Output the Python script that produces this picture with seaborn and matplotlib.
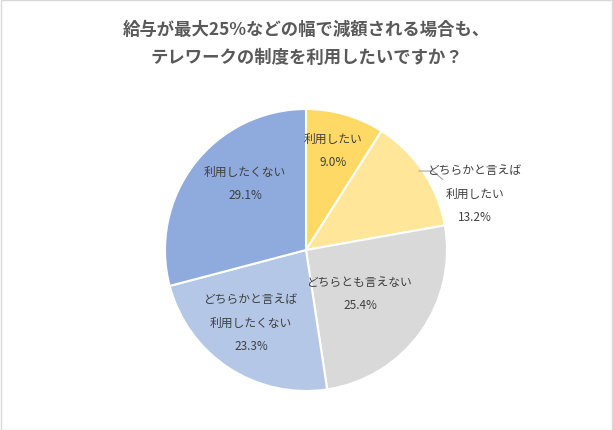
import matplotlib.pyplot as plt
import seaborn as sns

sns.set_style("white")
plt.rcParams["font.family"] = "Noto Sans CJK JP"

# data
categories = ["利用したい", "どちらかと言えば\n利用したい", "どちらとも言えない",
              "どちらかと言えば\n利用したくない", "利用したくない"]
values = [9.0, 13.2, 25.4, 23.3, 29.1]
colors = ["#FFD966", "#FFE699", "#D9D9D9", "#B4C7E7", "#8FAADC"]

W, H = 613, 431
fig = plt.figure(figsize=(W / 100, H / 100), dpi=100)
fig.patches.append(plt.Rectangle((0.001, 0.001), 0.997, 0.996, transform=fig.transFigure,
                                 fill=False, edgecolor="#D9D9D9", lw=1))

cx, cy, r = 306, H - 251, 141
ax = fig.add_axes([(cx - r) / W, (cy - r) / H, 2 * r / W, 2 * r / H])
ax.pie(values, colors=colors, startangle=90, counterclock=False,
       wedgeprops=dict(edgecolor="white", linewidth=1.5))
ax.set_xlim(-1, 1)
ax.set_ylim(-1, 1)
ax.axis("off")

# label positions (pixel offsets from centre / radius)
label_pos = [(27, 100), (169, 57), (54, -43), (-55, -72), (-61, 67)]
for cat, v, (dx, dy) in zip(categories, values, label_pos):
    ax.text(dx / r, dy / r, f"{cat}\n{v:.1f}%", ha="center", va="center",
            fontsize=8.5, color="#404040", linespacing=2.1, clip_on=False)

# leader line for the outside label
ax.plot([0.8, 0.9, 0.97], [0.56, 0.56, 0.50], color="#A6A6A6", lw=0.8, clip_on=False)

fig.text(0.5, 1 - 30 / H, "給与が最大25%などの幅で減額される場合も、", ha="center", va="center",
         fontsize=12.5, fontweight="bold", color="#595959")
fig.text(0.5, 1 - 58 / H, "テレワークの制度を利用したいですか？", ha="center", va="center",
         fontsize=12.5, fontweight="bold", color="#595959")

fig.savefig("out.png", dpi=100)
